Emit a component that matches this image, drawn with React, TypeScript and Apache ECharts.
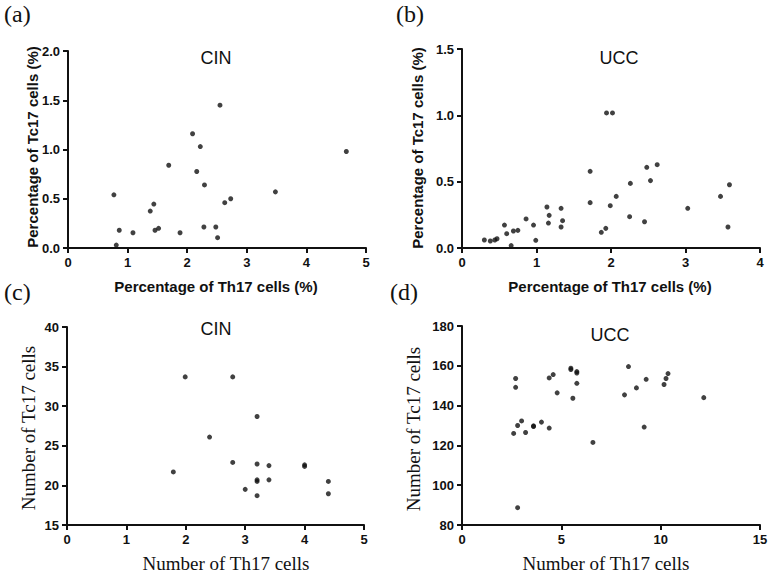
import React, { useEffect, useRef } from "react";
import * as echarts from "echarts";

// Panel (a): CIN, percentage Th17 vs Tc17
const cinPctTh17 = [0.77, 0.81, 0.86, 1.09, 1.38, 1.44, 1.46, 1.52, 1.69, 1.88, 2.09, 2.16, 2.22, 2.28, 2.29, 2.48, 2.51, 2.55, 2.63, 2.73, 3.48, 4.67];
const cinPctTc17 = [0.54, 0.03, 0.18, 0.155, 0.375, 0.446, 0.18, 0.2, 0.84, 0.155, 1.16, 0.777, 1.03, 0.213, 0.64, 0.213, 0.105, 1.45, 0.46, 0.5, 0.57, 0.98];

// Panel (b): UCC, percentage Th17 vs Tc17
const uccPctTh17 = [0.3, 0.38, 0.44, 0.47, 0.57, 0.6, 0.66, 0.69, 0.75, 0.86, 0.96, 0.99, 1.14, 1.16, 1.17, 1.33, 1.33, 1.35, 1.72, 1.72, 1.87, 1.93, 1.94, 2.02, 1.99, 2.07, 2.25, 2.26, 2.45, 2.48, 2.53, 2.62, 3.03, 3.47, 3.57, 3.59];
const uccPctTc17 = [0.06, 0.053, 0.06, 0.07, 0.173, 0.108, 0.018, 0.128, 0.133, 0.219, 0.173, 0.058, 0.309, 0.188, 0.246, 0.158, 0.299, 0.206, 0.578, 0.342, 0.118, 0.148, 1.018, 1.018, 0.319, 0.389, 0.236, 0.487, 0.198, 0.608, 0.508, 0.628, 0.299, 0.389, 0.158, 0.477];

// Panel (c): CIN, number Th17 vs Tc17
const cinNumTh17 = [1.79, 1.99, 2.4, 2.79, 2.79, 3.0, 3.2, 3.2, 3.2, 3.2, 3.2, 3.4, 3.4, 4.0, 4.0, 4.4, 4.4];
const cinNumTc17 = [21.7, 33.7, 26.1, 33.7, 22.9, 19.5, 28.7, 22.7, 20.7, 20.5, 18.7, 22.5, 20.7, 22.6, 22.4, 20.5, 18.95];

// Panel (d): UCC, number Th17 vs Tc17
const uccNumTh17 = [2.6, 2.7, 2.7, 2.8, 2.8, 3.0, 3.2, 3.6, 3.6, 4.0, 4.39, 4.39, 4.59, 4.79, 5.48, 5.48, 5.58, 5.78, 5.78, 5.78, 6.59, 8.18, 8.38, 8.78, 9.17, 9.27, 10.17, 10.27, 10.37, 12.17];
const uccNumTc17 = [126.0, 153.6, 149.2, 130.0, 88.7, 132.3, 126.5, 129.8, 129.5, 131.7, 128.7, 153.9, 155.6, 146.4, 158.8, 158.1, 143.7, 157.1, 156.4, 151.2, 121.5, 145.4, 159.6, 148.9, 129.2, 153.2, 150.6, 153.6, 156.1, 144.0];

const panelLabels = ["(a)", "(b)", "(c)", "(d)"];
const panelTitles = ["CIN", "UCC", "CIN", "UCC"];
const xNames = ["Percentage of Th17 cells (%)", "Percentage of Th17 cells (%)", "Number of Th17 cells", "Number of Th17 cells"];
const yNames = ["Percentage of Tc17 cells (%)", "Percentage of Tc17 cells (%)", "Number of Tc17 cells", "Number of Tc17 cells"];

const zip = (a: number[], b: number[]) => a.map((v, i) => [v, b[i]]);

export default function App() {
  const ref = useRef<HTMLDivElement>(null);
  useEffect(() => {
    if (!ref.current) return;
    const chart = echarts.init(ref.current, undefined, { renderer: "svg" });
    const sans = "Liberation Sans";
    const serif = "Liberation Serif";
    const grids = [
      { left: 68, top: 51, width: 298, height: 197 },
      { left: 462, top: 49, width: 298, height: 199 },
      { left: 67, top: 327, width: 297, height: 198 },
      { left: 462, top: 326, width: 298, height: 199 },
    ];
    const xCfg = [
      { min: 0, max: 5, interval: 1 },
      { min: 0, max: 4, interval: 1 },
      { min: 0, max: 5, interval: 1 },
      { min: 0, max: 15, interval: 5 },
    ];
    const yCfg = [
      { min: 0, max: 2, interval: 0.5, dec: true },
      { min: 0, max: 1.5, interval: 0.5, dec: true },
      { min: 15, max: 40, interval: 5, dec: false },
      { min: 80, max: 180, interval: 20, dec: false },
    ];
    const axisCommon = {
      axisLine: { show: true, onZero: false, lineStyle: { color: "#111", width: 2 } },
      axisTick: { show: true, inside: false, length: 5, lineStyle: { color: "#111", width: 2 } },
      splitLine: { show: false },
      axisLabel: { color: "#111", fontFamily: sans, fontWeight: "bold" as const, fontSize: 13, margin: 8 },
    };
    const xNamePos = [[216, 286], [610, 286], [226, 563], [606, 563]];
    const yNamePos = [[32, 147], [417, 148], [28, 428], [413, 429]];
    const nameStyle = (i: number) =>
      i < 2
        ? { fontFamily: sans, fontWeight: "bold", fontSize: 15 }
        : { fontFamily: serif, fontWeight: "normal", fontSize: 19 };
    const option: any = {
      animation: false,
      backgroundColor: "#fff",
      grid: grids.map((g) => ({ ...g, containLabel: false })),
      xAxis: xCfg.map((c, i) => ({
        type: "value",
        gridIndex: i,
        min: c.min,
        max: c.max,
        interval: c.interval,
        ...axisCommon,
      })),
      yAxis: yCfg.map((c, i) => ({
        type: "value",
        gridIndex: i,
        min: c.min,
        max: c.max,
        interval: c.interval,
        ...axisCommon,
        axisLabel: {
          ...axisCommon.axisLabel,
          formatter: (v: number) => (c.dec ? v.toFixed(1) : String(v)),
        },
      })),
      series: [
        zip(cinPctTh17, cinPctTc17),
        zip(uccPctTh17, uccPctTc17),
        zip(cinNumTh17, cinNumTc17),
        zip(uccNumTh17, uccNumTc17),
      ].map((d, i) => ({
        type: "scatter",
        xAxisIndex: i,
        yAxisIndex: i,
        data: d,
        symbol: "circle",
        symbolSize: 5,
        itemStyle: { color: "#111" },
        silent: true,
      })),
      graphic: [
        ...panelLabels.map((t, i) => ({
          type: "text",
          left: [4, 396, 4, 390][i],
          top: [2, 2, 280, 280][i],
          style: { text: t, fontFamily: serif, fontSize: 24, fill: "#111" },
        })),
        ...panelTitles.map((t, i) => ({
          type: "text",
          x: [216, 619, 216, 610][i],
          y: [58, 58, 329, 335][i],
          style: { text: t, fontFamily: sans, fontSize: 18, fill: "#111", align: "center", verticalAlign: "middle" },
        })),
        ...xNames.map((t, i) => ({
          type: "text",
          x: xNamePos[i][0],
          y: xNamePos[i][1],
          style: { text: t, ...nameStyle(i), fill: "#111", align: "center", verticalAlign: "middle" },
        })),
        ...yNames.map((t, i) => ({
          type: "text",
          x: yNamePos[i][0],
          y: yNamePos[i][1],
          rotation: Math.PI / 2,
          style: { text: t, ...nameStyle(i), fill: "#111", align: "center", verticalAlign: "middle" },
        })),
      ],
    };
    chart.setOption(option);
    return () => chart.dispose();
  }, []);
  return <div ref={ref} style={{ position: "fixed", left: 0, top: 0, width: 771, height: 573 }} />;
}
